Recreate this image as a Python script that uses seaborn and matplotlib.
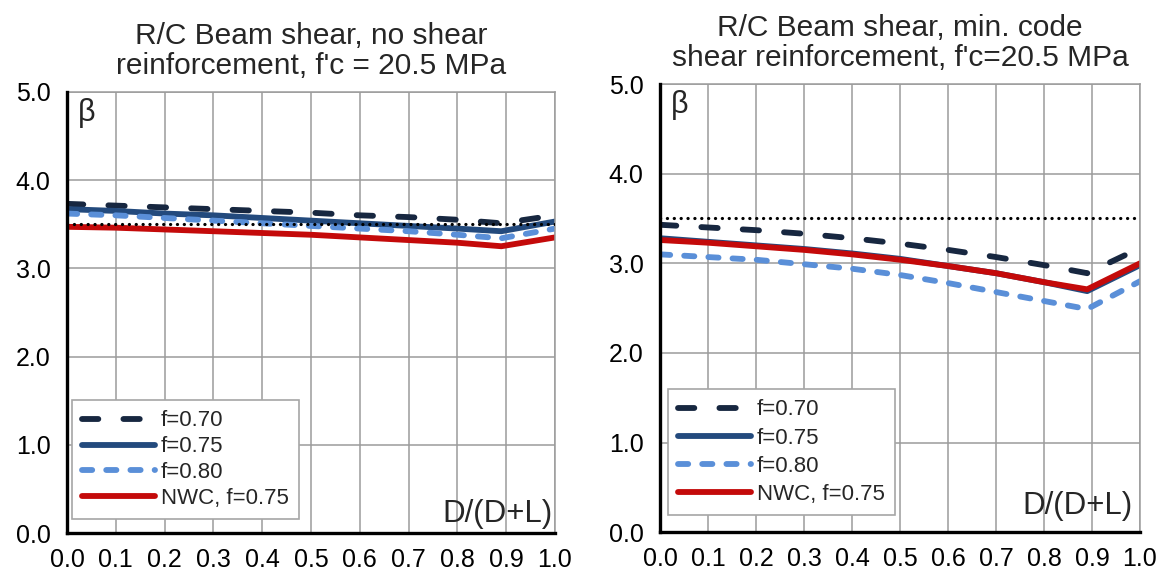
import matplotlib
matplotlib.use("Agg")
import matplotlib.pyplot as plt
import matplotlib.ticker as mticker
import pandas as pd
import seaborn as sns

# Dead-load ratio D/(D+L)
x_ratio = [0.0, 0.1, 0.2, 0.3, 0.4, 0.5, 0.6, 0.7, 0.8, 0.89, 1.0]
series_names = ["f=0.70", "f=0.75", "f=0.80", "NWC, f=0.75"]

# Reliability index, beams without shear reinforcement
no_stirrups_f070 = [3.73, 3.71, 3.69, 3.67, 3.65, 3.63, 3.60, 3.58, 3.55, 3.51, 3.60]
no_stirrups_f075 = [3.67, 3.65, 3.62, 3.60, 3.57, 3.54, 3.51, 3.48, 3.45, 3.42, 3.53]
no_stirrups_f080 = [3.62, 3.60, 3.57, 3.54, 3.51, 3.48, 3.45, 3.42, 3.38, 3.34, 3.45]
no_stirrups_nwc = [3.47, 3.46, 3.44, 3.42, 3.40, 3.38, 3.35, 3.32, 3.29, 3.25, 3.35]

# Reliability index, beams with minimum code shear reinforcement
min_stirrups_f070 = [3.43, 3.40, 3.37, 3.33, 3.28, 3.22, 3.15, 3.07, 2.98, 2.89, 3.17]
min_stirrups_f075 = [3.28, 3.24, 3.20, 3.16, 3.11, 3.05, 2.97, 2.89, 2.79, 2.69, 2.98]
min_stirrups_f080 = [3.10, 3.07, 3.04, 2.99, 2.94, 2.87, 2.78, 2.68, 2.58, 2.49, 2.80]
min_stirrups_nwc = [3.26, 3.23, 3.19, 3.15, 3.10, 3.04, 2.97, 2.89, 2.79, 2.71, 3.00]

target_beta = 3.5

panel_titles = [
    "R/C Beam shear, no shear\nreinforcement, f'c = 20.5 MPa",
    "R/C Beam shear, min. code\nshear reinforcement, f'c=20.5 MPa",
]

palette = {
    "f=0.70": "#172740",
    "f=0.75": "#234a7d",
    "f=0.80": "#5a8fd8",
    "NWC, f=0.75": "#c40a0a",
}
dash_styles = {
    "f=0.70": (2.8, 4.3),
    "f=0.75": "",
    "f=0.80": (1.75, 2.4),
    "NWC, f=0.75": "",
}

sns.set_style("white")
plt.rcParams["font.family"] = ["Liberation Sans", "DejaVu Sans"]
plt.rcParams["lines.dash_capstyle"] = "round"
plt.rcParams["lines.solid_capstyle"] = "round"
plt.rcParams["lines.solid_joinstyle"] = "round"
plt.rcParams["lines.dash_joinstyle"] = "round"


def long_frame(values_by_series):
    rows = []
    for name, vals in zip(series_names, values_by_series):
        for xv, yv in zip(x_ratio, vals):
            rows.append({"ratio": xv, "beta": yv, "series": name})
    return pd.DataFrame(rows)


panels = [
    long_frame([no_stirrups_f070, no_stirrups_f075, no_stirrups_f080, no_stirrups_nwc]),
    long_frame([min_stirrups_f070, min_stirrups_f075, min_stirrups_f080, min_stirrups_nwc]),
]

fig = plt.figure(figsize=(11.63, 5.73), dpi=100)
axes = [
    fig.add_axes([0.0576, 0.0693, 0.4196, 0.7707]),
    fig.add_axes([0.5675, 0.0710, 0.4127, 0.7824]),
]

legend_anchor = [(0.010, 0.032), (0.017, 0.039)]
legend_spacing = [0.22, 0.32]
xlabel_y = [0.05, 0.13]
xlabel_x = [0.995, 0.985]

for i, (ax, df) in enumerate(zip(axes, panels)):
    sns.lineplot(
        data=df, x="ratio", y="beta", hue="series", style="series",
        hue_order=series_names, style_order=series_names,
        palette=palette, dashes=dash_styles, linewidth=4.2,
        sort=False, legend=False, ax=ax,
    )
    ax.axhline(target_beta, color="black", linewidth=2.3,
               linestyle=(0, (0.05, 2.1)), dash_capstyle="round", zorder=3)

    ax.set_xlim(0, 1.0)
    ax.set_ylim(0, 5.0)
    ax.xaxis.set_major_locator(mticker.MultipleLocator(0.1))
    ax.yaxis.set_major_locator(mticker.MultipleLocator(1.0))
    ax.xaxis.set_major_formatter(mticker.FormatStrFormatter("%.1f"))
    ax.yaxis.set_major_formatter(mticker.FormatStrFormatter("%.1f"))
    ax.grid(True, color="#9b9b9b", linewidth=1.1)
    ax.set_axisbelow(True)
    ax.set_xlabel("")
    ax.set_ylabel("")

    for side in ("left", "bottom"):
        ax.spines[side].set_color("black")
        ax.spines[side].set_linewidth(2.4)
        ax.spines[side].set_zorder(4)
    for side in ("top", "right"):
        ax.spines[side].set_color("#9b9b9b")
        ax.spines[side].set_linewidth(1.1)

    ax.tick_params(axis="both", direction="inout", length=9.5, width=2.2,
                   color="black", labelsize=18, labelcolor="black")
    ax.tick_params(axis="y", pad=7)
    ax.tick_params(axis="x", pad=5.5)

    ax.set_title(panel_titles[i], fontsize=21.5, pad=13, linespacing=1.08)

    ax.text(0.022, 4.93, "β", fontsize=22, ha="left", va="top")
    ax.text(xlabel_x[i], xlabel_y[i], "D/(D+L)", fontsize=22.5,
            ha="right", va="bottom")

    handles = list(ax.lines[:4])
    leg = ax.legend(
        handles, series_names, loc="lower left",
        bbox_to_anchor=legend_anchor[i], borderaxespad=0,
        fontsize=16, handlelength=3.3, handletextpad=0.25,
        labelspacing=legend_spacing[i], borderpad=0.45,
        frameon=True, fancybox=False, framealpha=1.0,
        edgecolor="#a6a6a6",
    )
    leg.get_frame().set_linewidth(1.2)
    leg.set_zorder(5)

fig.savefig("out.png", dpi=100)
